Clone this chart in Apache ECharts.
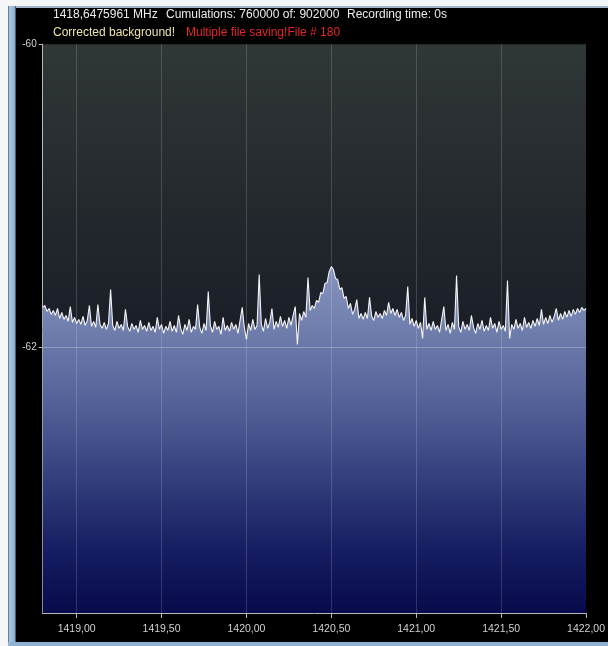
<!DOCTYPE html>
<html>
<head>
<meta charset="utf-8">
<script src="https://cdn.jsdelivr.net/npm/echarts@6/dist/echarts.min.js"></script>
<style>
  html, body { margin: 0; padding: 0; background: #000; }
  #chart { width: 608px; height: 646px; }
</style>
</head>
<body>
<div id="chart"></div>
<script>
// Receiver frequency bins (MHz)
const freqStart = 1418.80;
const freqStep = 0.0125;

// Averaged power per bin (dB), 257 bins from 1418.80 to 1422.00 MHz
const powerDb = [
  -61.735,-61.722,-61.762,-61.742,-61.781,-61.755,-61.788,-61.742,-61.808,-61.768,
  -61.814,-61.788,-61.827,-61.729,-61.834,-61.801,-61.841,-61.814,-61.847,-61.794,
  -61.854,-61.821,-61.722,-61.860,-61.827,-61.867,-61.716,-61.847,-61.873,-61.834,
  -61.880,-61.841,-61.617,-61.854,-61.887,-61.827,-61.873,-61.847,-61.887,-61.748,
  -61.860,-61.893,-61.841,-61.880,-61.854,-61.900,-61.821,-61.880,-61.854,-61.893,
  -61.834,-61.887,-61.860,-61.900,-61.801,-61.880,-61.847,-61.906,-61.860,-61.887,
  -61.827,-61.893,-61.854,-61.900,-61.788,-61.873,-61.913,-61.847,-61.887,-61.814,
  -61.900,-61.860,-61.880,-61.716,-61.867,-61.906,-61.841,-61.887,-61.630,-61.854,
  -61.900,-61.827,-61.880,-61.860,-61.913,-61.801,-61.887,-61.854,-61.893,-61.834,
  -61.880,-61.847,-61.906,-61.821,-61.735,-61.867,-61.946,-61.841,-61.887,-61.814,
  -61.880,-61.854,-61.518,-61.847,-61.893,-61.808,-61.873,-61.834,-61.742,-61.880,
  -61.827,-61.867,-61.794,-61.860,-61.821,-61.873,-61.801,-61.854,-61.788,-61.729,
  -61.979,-61.775,-61.821,-61.762,-61.801,-61.538,-61.755,-61.722,-61.742,-61.689,
  -61.702,-61.637,-61.643,-61.577,-61.571,-61.498,-61.466,-61.485,-61.545,-61.551,
  -61.617,-61.604,-61.676,-61.663,-61.742,-61.709,-61.781,-61.748,-61.683,-61.808,
  -61.775,-61.814,-61.768,-61.808,-61.669,-61.794,-61.821,-61.762,-61.801,-61.775,
  -61.808,-61.755,-61.788,-61.702,-61.775,-61.742,-61.788,-61.748,-61.801,-61.768,
  -61.821,-61.788,-61.597,-61.847,-61.808,-61.860,-61.821,-61.873,-61.834,-61.939,
  -61.669,-61.880,-61.841,-61.887,-61.827,-61.880,-61.854,-61.900,-61.814,-61.729,
  -61.887,-61.847,-61.906,-61.834,-61.880,-61.525,-61.860,-61.900,-61.827,-61.880,
  -61.847,-61.887,-61.788,-61.867,-61.906,-61.841,-61.880,-61.821,-61.893,-61.854,
  -61.887,-61.801,-61.873,-61.841,-61.900,-61.827,-61.880,-61.854,-61.893,-61.558,
  -61.939,-61.847,-61.880,-61.814,-61.873,-61.841,-61.887,-61.801,-61.867,-61.834,
  -61.873,-61.821,-61.860,-61.808,-61.854,-61.748,-61.847,-61.801,-61.841,-61.788,
  -61.834,-61.794,-61.742,-61.821,-61.775,-61.814,-61.762,-61.801,-61.755,-61.794,
  -61.748,-61.781,-61.742,-61.768,-61.735,-61.755,-61.742
];

// Axis ticks
const xTicks = [1419.0, 1419.5, 1420.0, 1420.5, 1421.0, 1421.5, 1422.0];
const yTicks = [-60, -62];
const xRange = [1418.80, 1422.00];
const yRange = [-63.75, -60];

// Status lines
const statusTop = [
  { text: '1418,6475961 MHz', x: 53 },
  { text: 'Cumulations: 760000 of: 902000', x: 166 },
  { text: 'Recording time: 0s', x: 347 }
];
const statusBottom = [
  { text: 'Corrected background!', x: 53, color: '#eee3a6' },
  { text: 'Multiple file saving!File # 180', x: 186, color: '#e3262a' }
];

const FONT = '"Liberation Sans", Arial, sans-serif';
const spectrum = powerDb.map((v, i) => [freqStart + i * freqStep, v]);

const chart = echarts.init(document.getElementById('chart'), null, { renderer: 'canvas' });

const gridLineStyle = { color: 'rgba(255,255,255,0.16)', width: 1, type: 'solid' };

const statusTexts = [];
statusTop.forEach(s => statusTexts.push({
  type: 'text', x: s.x, y: 15, silent: true, z: 10,
  style: { text: s.text, fill: '#ececec', font: '12px ' + FONT, textVerticalAlign: 'middle', verticalAlign: 'middle' }
}));
statusBottom.forEach(s => statusTexts.push({
  type: 'text', x: s.x, y: 33, silent: true, z: 10,
  style: { text: s.text, fill: s.color, font: '12px ' + FONT, textVerticalAlign: 'middle', verticalAlign: 'middle' }
}));

chart.setOption({
  backgroundColor: '#000000',
  animation: false,
  graphic: [
    // window frame
    { type: 'rect', shape: { x: 0, y: 0, width: 608, height: 6 }, style: { fill: '#f4f6f8' }, silent: true },
    { type: 'rect', shape: { x: 0, y: 6, width: 608, height: 2 }, style: { fill: '#9fb4c8' }, silent: true },
    { type: 'rect', shape: { x: 0, y: 0, width: 8, height: 646 }, style: { fill: '#f4f6f8' }, silent: true },
    { type: 'rect', shape: { x: 8, y: 6, width: 8, height: 640 },
      style: { fill: new echarts.graphic.LinearGradient(0, 0, 1, 0, [
        { offset: 0, color: '#3a4a60' }, { offset: 0.15, color: '#a8c6e0' },
        { offset: 0.8, color: '#8fb2d2' }, { offset: 1, color: '#2c3a4c' }]) }, silent: true },
    { type: 'rect', shape: { x: 8, y: 642, width: 600, height: 4 }, style: { fill: '#8fb2d2' }, silent: true },
    ...statusTexts
  ],
  grid: {
    left: 42.7, top: 44.3, right: 21.3, bottom: 33,
    show: true, borderWidth: 0,
    backgroundColor: new echarts.graphic.LinearGradient(0, 0, 0, 1, [
      { offset: 0, color: '#303737' },
      { offset: 0.5, color: '#1b1e27' },
      { offset: 1, color: '#12142a' }
    ])
  },
  xAxis: {
    type: 'value', min: xRange[0], max: xRange[1],
    axisLine: { show: true, lineStyle: { color: '#b8b8b8', width: 1 } },
    axisTick: { show: true, length: 5, customValues: xTicks, lineStyle: { color: '#b8b8b8' } },
    axisLabel: {
      customValues: xTicks, color: '#d2d2d2', fontSize: 10.5, fontFamily: FONT, margin: 11,
      formatter: v => v.toFixed(2).replace('.', ',')
    },
    splitLine: { show: false }
  },
  yAxis: {
    type: 'value', min: yRange[0], max: yRange[1],
    axisLine: { show: true, lineStyle: { color: '#b8b8b8', width: 1 } },
    axisTick: { show: true, length: 4, customValues: yTicks, lineStyle: { color: '#b8b8b8' } },
    axisLabel: { customValues: yTicks, color: '#d2d2d2', fontSize: 10, fontFamily: FONT, margin: 6 },
    splitLine: { show: false }
  },
  series: [{
    type: 'line',
    data: spectrum,
    showSymbol: false,
    symbol: 'none',
    lineStyle: { color: '#f4f4f4', width: 1.1 },
    areaStyle: {
      origin: 'start',
      opacity: 1,
      color: new echarts.graphic.LinearGradient(0, 0, 0, 1, [
        { offset: 0, color: '#8794c0' },
        { offset: 0.18, color: '#6f7eac' },
        { offset: 0.38, color: '#55639a' },
        { offset: 0.62, color: '#323e7c' },
        { offset: 0.82, color: '#161d62' },
        { offset: 1, color: '#070a4c' }
      ])
    },
    markLine: {
      silent: true, symbol: 'none', animation: false,
      label: { show: false },
      lineStyle: gridLineStyle,
      data: xTicks.filter(t => t < xRange[1]).map(t => ({ xAxis: t }))
        .concat(yTicks.filter(t => t > yRange[0] && t < yRange[1]).map(t => ({ yAxis: t, lineStyle: { color: 'rgba(255,255,255,0.28)', width: 1, type: 'solid' } })))
    }
  }]
});
</script>
</body>
</html>
